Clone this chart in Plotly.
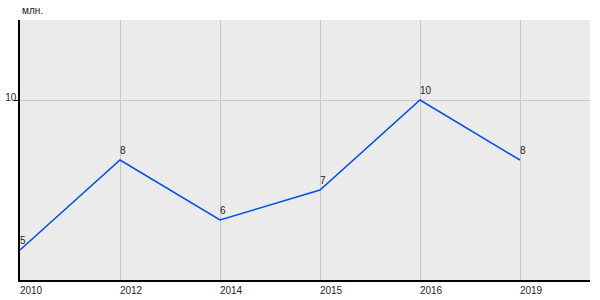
import plotly.graph_objects as go

years = ["2010", "2012", "2014", "2015", "2016", "2019"]
values = [5, 8, 6, 7, 10, 8]
labels = ["5", "8", "6", "7", "10", "8"]

xs = list(range(len(years)))
fig = go.Figure()
fig.add_trace(go.Scatter(
    x=xs, y=values, mode="lines",
    line=dict(color="#0050e6", width=1.5),
    hoverinfo="skip", showlegend=False,
))
annots = [dict(text="млн.", x=0, y=1, xref="paper", yref="paper",
               xanchor="left", yanchor="bottom", yshift=2, showarrow=False,
               font=dict(size=10, color="#222"))]
for x, v, t in zip(xs, values, labels):
    annots.append(dict(text=t, x=x, y=v, xref="x", yref="y",
                       xanchor="left", yanchor="bottom", xshift=-2, yshift=2,
                       showarrow=False, font=dict(size=10, color="#222")))
fig.update_layout(
    width=600, height=300,
    margin=dict(l=20, r=10, t=20, b=20),
    paper_bgcolor="white", plot_bgcolor="#ebebeb",
    font=dict(family="Liberation Sans, Arial", size=10, color="#222"),
    annotations=annots,
)
fig.update_xaxes(
    range=[0, 5.7], tickvals=xs, ticktext=years,
    showgrid=True, gridcolor="#c8c8c8", gridwidth=1,
    showline=True, linecolor="black", linewidth=1.5,
    ticks="", ticklabelshift=11, ticklabelstandoff=0, zeroline=False,
    automargin=False,
)
fig.update_yaxes(
    range=[4, 12.667], tickvals=[10], ticktext=["10"],
    showgrid=True, gridcolor="#c8c8c8", gridwidth=1,
    showline=True, linecolor="black", linewidth=1.5,
    ticks="outside", ticklen=4, tickcolor="black", zeroline=False,
    ticklabelstandoff=-4, ticklabelshift=-3, automargin=False,
)
fig.write_html("out.html")
